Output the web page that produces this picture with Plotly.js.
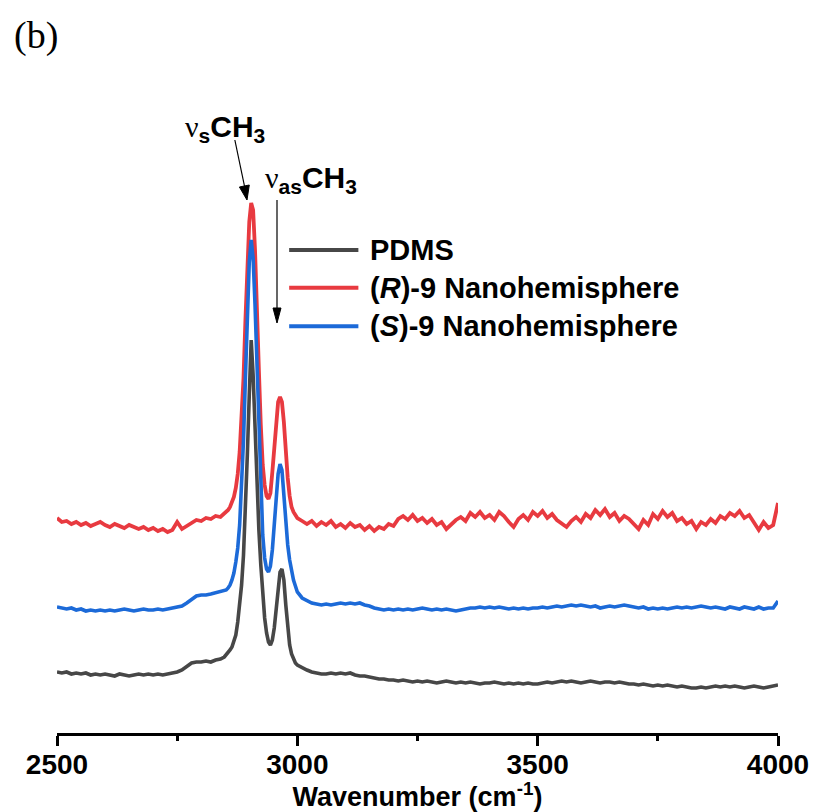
<!DOCTYPE html>
<html>
<head>
<meta charset="utf-8">
<script src="https://cdn.plot.ly/plotly-3.0.1.min.js"></script>
<style>
html,body{margin:0;padding:0;background:#fff;}
#chart{width:815px;height:812px;}
</style>
</head>
<body>
<div id="chart"></div>
<script>
// Wavenumber grid (cm^-1)
const wavenumber = [
2500,2510,2520,2530,2540,2550,2560,2570,2580,2590,2600,2610,2620,2630,2640,2650,2660,2670,2680,2690,
2700,2710,2720,2730,2740,2750,2760,2770,2780,2790,2800,2810,2820,2830,2840,
2848,2852,2856,2860,2864,2868,2872,2876,2880,2884,2888,2892,2896,2900,2904,2908,2912,2916,2920,2924,
2928,2932,2936,2940,2944,2948,2952,2956,2960,2964,2968,2972,2976,2980,2984,2988,2992,2996,
3000,3010,3020,3030,3040,3050,3060,3070,3080,3090,3100,3110,3120,3130,3140,3150,3160,3170,3180,3190,
3200,3210,3220,3230,3240,3250,3260,3270,3280,3290,3300,3310,3320,3330,3340,3350,3360,3370,3380,3390,
3400,3410,3420,3430,3440,3450,3460,3470,3480,3490,3500,3510,3520,3530,3540,3550,3560,3570,3580,3590,
3600,3610,3620,3630,3640,3650,3660,3670,3680,3690,3700,3710,3720,3730,3740,3750,3760,3770,3780,3790,
3800,3810,3820,3830,3840,3850,3860,3870,3880,3890,3900,3910,3920,3930,3940,3950,3960,3970,3980,3990,4000
];

// PDMS (offset intensity, a.u.)
const pdms = [
61,60,61,59,60,59,60,58,59,58,59,58,57,59,58,57,58,59,58,59,
58,59,58,59,60,61,63,67,70,71,71,72,71,73,74,
76,78,80,83,86,91,98,111,128,148,178,223,278,338,393,358,303,243,203,168,
138,115,100,91,88,93,105,123,145,161,164,153,128,103,88,79,74,70,
68,65,63,61,60,59,59,60,59,60,59,60,58,57,57,56,55,54,54,53,
53,52,53,52,51,52,51,52,51,50,51,52,51,50,51,50,51,50,49,50,
50,51,50,49,50,49,50,49,50,49,49,50,51,50,51,52,51,52,51,50,
51,52,51,50,51,51,50,51,50,49,49,48,49,48,47,48,47,48,47,46,
47,46,45,45,46,45,46,47,46,47,46,47,46,45,46,47,46,45,46,47,48
];

// (R)-9 Nanohemisphere (offset intensity, a.u.)
const rNano = [
215,211,212,209,211,208,210,207,209,211,208,206,209,207,205,208,206,204,206,203,
205,202,204,201,203,211,204,207,211,213,212,215,214,217,216,
219,221,223,226,230,236,245,259,281,313,355,413,468,511,530,523,483,433,363,308,
268,248,237,234,240,261,288,315,331,336,331,311,281,255,237,226,221,217,
215,212,209,212,207,211,208,212,206,209,205,210,206,208,203,207,202,206,204,209,
207,214,217,213,218,212,215,210,214,208,211,204,209,213,216,212,220,216,221,215,
218,213,221,217,211,206,214,218,213,221,217,222,215,219,213,210,206,212,216,211,
219,215,223,218,224,216,220,212,217,214,209,204,213,208,219,214,222,216,220,212,
215,209,212,204,211,208,214,210,217,214,220,217,222,215,218,210,203,211,205,208,230
];

// (S)-9 Nanohemisphere (offset intensity, a.u.)
const sNano = [
126,125,124,125,123,124,122,123,122,123,122,123,122,123,124,123,122,123,124,123,
123,124,123,124,125,126,127,130,134,137,138,138,139,140,141,
142,143,145,148,153,160,171,185,208,243,293,355,418,471,493,475,428,363,298,238,
198,175,164,161,167,183,208,236,259,269,263,238,210,188,173,161,153,147,
141,135,132,130,129,128,129,128,129,130,129,130,129,130,128,127,125,124,123,124,
123,124,123,124,123,124,125,124,123,124,123,124,123,122,123,124,125,125,126,125,
126,125,126,125,124,125,124,125,124,125,125,126,125,126,127,126,127,128,127,128,
127,126,127,125,126,127,126,127,128,127,126,125,126,124,125,124,125,124,125,126,
125,126,125,126,127,126,125,126,125,124,126,125,124,126,125,124,126,124,125,125,132
];

const seriesNames = ['PDMS', '(<i>R</i>)-9 Nanohemisphere', '(<i>S</i>)-9 Nanohemisphere'];
const xTickVals = [2500, 3000, 3500, 4000];
const xTickText = ['2500', '3000', '3500', '4000'];

const cBlack = '#474747', cRed = '#e83a40', cBlue = '#1c6ad8';
const FONT = 'Liberation Sans, Arial, sans-serif';

const traces = [
  {x: wavenumber, y: rNano, name: seriesNames[1], mode: 'lines', line: {color: cRed, width: 3.8}, showlegend: false},
  {x: wavenumber, y: sNano, name: seriesNames[2], mode: 'lines', line: {color: cBlue, width: 3.6}, showlegend: false},
  {x: wavenumber, y: pdms, name: seriesNames[0], mode: 'lines', line: {color: cBlack, width: 3.6}, showlegend: false}
];

// manual legend (long line samples as in the original)
const legendColors = [cBlack, cRed, cBlue];
const legendY = [0.690, 0.636, 0.581];
const shapes = [];
const annotations = [];
for (let i = 0; i < 3; i++) {
  shapes.push({type: 'line', xref: 'paper', yref: 'paper', x0: 0.322, x1: 0.418, y0: legendY[i], y1: legendY[i],
               line: {color: legendColors[i], width: 4}});
  annotations.push({xref: 'paper', yref: 'paper', x: 0.431, y: legendY[i], xanchor: 'left', yanchor: 'middle',
                    showarrow: false, text: seriesNames[i], font: {family: FONT, size: 29, weight: 'bold', color: '#000'}});
}

// arrows (data coordinates)
shapes.push({type: 'line', xref: 'x', yref: 'y', x0: 2870, y0: 593, x1: 2890, y1: 547, line: {color: '#000', width: 1.2}});
shapes.push({type: 'path', xref: 'x', yref: 'y', path: 'M 2895.3,533 L 2900,548 L 2879.5,546 Z', fillcolor: '#000', line: {color: '#000', width: 1}});
shapes.push({type: 'line', xref: 'x', yref: 'y', x0: 2957.7, y0: 533, x1: 2957.7, y1: 425, line: {color: '#000', width: 1.2}});
shapes.push({type: 'path', xref: 'x', yref: 'y', path: 'M 2957.7,410 L 2949.4,425 L 2966,425 Z', fillcolor: '#000', line: {color: '#000', width: 1}});

const NU = '<span style="font-family:Liberation Serif, Times New Roman, serif;font-weight:normal">ν</span>';
annotations.push({xref: 'paper', yref: 'paper', x: 0.1748, y: 0.863, xanchor: 'left', yanchor: 'middle', showarrow: false,
  text: NU + '<sub>s</sub>CH<sub>3</sub>', font: {family: FONT, size: 30, weight: 'bold', color: '#000'}});
annotations.push({xref: 'paper', yref: 'paper', x: 0.2857, y: 0.7914, xanchor: 'left', yanchor: 'middle', showarrow: false,
  text: NU + '<sub>as</sub>CH<sub>3</sub>', font: {family: FONT, size: 30, weight: 'bold', color: '#000'}});
annotations.push({xref: 'paper', yref: 'paper', x: -0.0624, y: 0.997, xanchor: 'left', yanchor: 'middle', showarrow: false,
  text: '(b)', font: {family: 'Liberation Serif, Times New Roman, serif', size: 38, color: '#000'}});

const layout = {
  width: 815, height: 812,
  margin: {l: 57, r: 37, t: 33, b: 79},
  paper_bgcolor: '#fff', plot_bgcolor: '#fff',
  showlegend: false,
  xaxis: {
    range: [2500, 4000], showgrid: false, zeroline: false,
    showline: true, linecolor: '#000', linewidth: 3,
    tickmode: 'array', tickvals: xTickVals, ticktext: xTickText,
    ticks: 'outside', ticklen: 10, tickwidth: 3, tickcolor: '#000',
    ticklabelstandoff: -6,
    minor: {tickvals: [2750, 3250, 3750], ticks: 'outside', ticklen: 5, tickwidth: 3, tickcolor: '#000'},
    tickfont: {family: FONT, size: 28, weight: 'bold', color: '#000'},
    title: {text: 'Wavenumber (cm<sup>-1</sup>)', font: {family: FONT, size: 27, weight: 'bold', color: '#000'}, standoff: 8}
  },
  yaxis: {range: [0, 700], visible: false, showgrid: false, zeroline: false},
  shapes: shapes,
  annotations: annotations
};

Plotly.newPlot('chart', traces, layout, {displayModeBar: false, staticPlot: true});
</script>
</body>
</html>
